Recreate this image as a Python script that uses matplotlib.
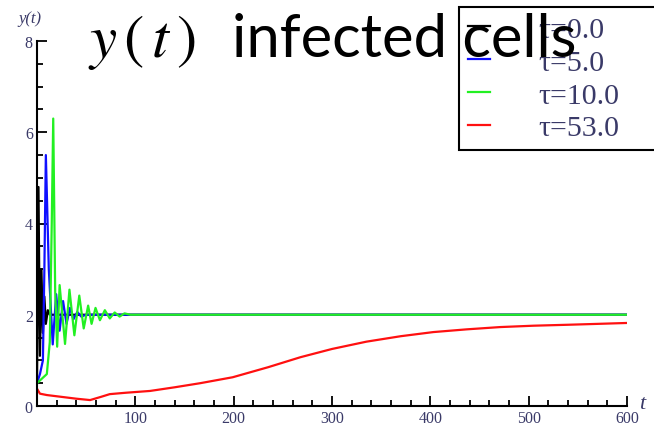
import matplotlib
matplotlib.use("Agg")
import matplotlib.pyplot as plt
from matplotlib.ticker import FixedLocator

plt.rcParams["mathtext.fontset"] = "stix"

# --- data ---------------------------------------------------------------
labels = ["\u03c4=0.0", "\u03c4=5.0", "\u03c4=10.0", "\u03c4=53.0"]
colors = ["#000000", "#1010ff", "#22f022", "#ff1010"]

t_tau0 = [0, 1.5, 3, 4.5, 6, 7.5, 9, 11, 13, 600]
y_tau0 = [0.5, 4.8, 1.1, 3.0, 1.6, 2.4, 1.8, 2.1, 2.0, 2.0]

t_tau5 = [0, 3, 6, 7.5, 9, 12, 16, 19.5, 23, 26.5, 30, 33.5, 37, 41, 45, 50, 600]
y_tau5 = [0.5, 0.7, 1.0, 3.0, 5.5, 3.0, 1.35, 2.45, 1.65, 2.3, 1.8, 2.15, 1.9,
          2.06, 1.96, 2.0, 2.0]

t_tau10 = [0, 5, 10, 13, 15, 16.5, 18.5, 20.5, 23, 28.5, 33, 38, 43, 47.5, 52,
           55.5, 59.5, 64, 69, 74, 79, 84, 89, 95, 600]
y_tau10 = [0.5, 0.6, 0.7, 1.4, 4.0, 6.3, 2.5, 1.3, 2.65, 1.36, 2.55, 1.55, 2.42,
           1.7, 2.2, 1.8, 2.15, 1.88, 2.1, 1.92, 2.05, 1.96, 2.03, 2.0, 2.0]

t_tau53 = [0, 3, 10, 25, 40, 54, 65, 74, 90, 115, 140, 166, 199, 235, 268, 300,
           335, 370, 403, 437, 471, 505, 539, 570, 600]
y_tau53 = [0.38, 0.27, 0.24, 0.2, 0.16, 0.13, 0.2, 0.26, 0.29, 0.33, 0.41, 0.5,
           0.63, 0.85, 1.07, 1.25, 1.41, 1.53, 1.62, 1.68, 1.73, 1.76, 1.78,
           1.8, 1.82]

series = [(t_tau0, y_tau0), (t_tau5, y_tau5), (t_tau10, y_tau10), (t_tau53, y_tau53)]

x_major = [100, 200, 300, 400, 500, 600]
y_major = [0, 2, 4, 6, 8]

TICKCOL = "#3a3a68"
SERIF = "Liberation Serif"

# --- figure ---------------------------------------------------------------
W, H = 654, 427
fig = plt.figure(figsize=(W / 100, H / 100), dpi=100)
ax = fig.add_axes([37 / W, 20 / H, 590 / W, 365 / H])

for (t, y), c, lab in zip(series, colors, labels):
    ax.plot(t, y, color=c, lw=1.6, label=lab)

ax.set_xlim(0, 600)
ax.set_ylim(0, 8)
ax.spines["top"].set_visible(False)
ax.spines["right"].set_visible(False)
for s in ("left", "bottom"):
    ax.spines[s].set_linewidth(1.5)

ax.set_xticks(x_major)
ax.set_yticks(y_major)
ax.xaxis.set_minor_locator(FixedLocator([v for v in range(20, 600, 20) if v % 100]))
ax.yaxis.set_minor_locator(FixedLocator([v / 2 for v in range(1, 16) if v % 4]))
ax.tick_params(which="both", direction="in", width=1.3, colors="black",
               labelcolor=TICKCOL, labelsize=11.5)
ax.tick_params(which="major", length=7, pad=3)
ax.tick_params(which="minor", length=4.5)
for lbl in ax.get_xticklabels() + ax.get_yticklabels():
    lbl.set_family(SERIF)

# axis labels, Mathematica style at the ends of the axes
fig.text(30 / W, 1 - 19 / H, "y(t)", family=SERIF, style="italic",
         fontsize=12, color=TICKCOL, ha="center", va="center")
fig.text(642 / W, 1 - 405 / H, "t", family=SERIF, style="italic",
         fontsize=16, color=TICKCOL, ha="center", va="center")

leg = fig.legend(loc="upper left", bbox_to_anchor=(459 / W, 1 - 147 / H, 230 / W, 139 / H),
                 mode="expand", fancybox=False, edgecolor="black", framealpha=1,
                 prop={"family": SERIF, "size": 21.5}, handlelength=0.75,
                 handletextpad=1.6, labelspacing=0.2, borderpad=0.3,
                 borderaxespad=0)
leg.get_frame().set_linewidth(1.5)
for txt in leg.get_texts():
    txt.set_color(TICKCOL)

# big slide title overlapping the plot
fig.text(88 / W, 1 - 57 / H, r"$y\,(\,t\,)$", fontsize=44, color="black",
         ha="left", va="baseline", zorder=10)
fig.text(232 / W, 1 - 57 / H, "infected cells", family="Lato",
         fontsize=43, color="black", ha="left", va="baseline", zorder=10)

fig.savefig("out.png", dpi=100)
